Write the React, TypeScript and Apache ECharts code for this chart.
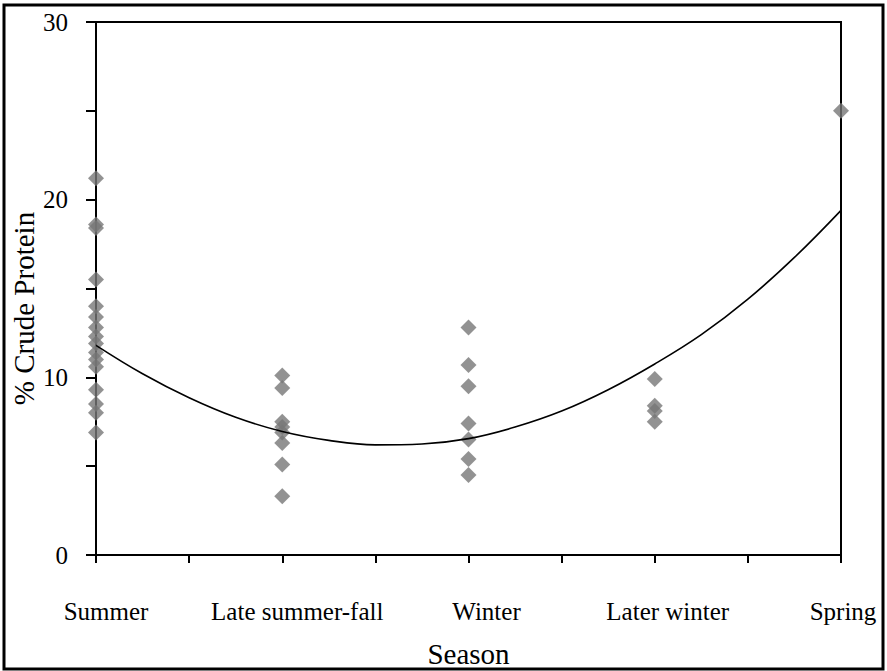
import React, { useEffect, useRef } from "react";
import * as echarts from "echarts";

const seasons = ["Summer", "Late summer-fall", "Winter", "Later winter", "Spring"];

const summer = [21.2, 18.6, 18.4, 15.5, 14.0, 13.4, 12.8, 12.3, 11.9, 11.4, 11.0, 10.6, 9.3, 8.5, 8.0, 6.9];
const lateSummerFall = [10.1, 9.4, 7.5, 7.2, 6.9, 6.3, 5.1, 3.3];
const winter = [12.8, 10.7, 9.5, 7.4, 6.5, 5.4, 4.5];
const laterWinter = [9.9, 8.4, 8.1, 7.5];
const spring = [25.0];

const trendX = [0, 0.25, 0.5, 0.75, 1, 1.25, 1.5, 1.75, 2, 2.25, 2.5, 2.75, 3, 3.25, 3.5, 3.75, 4];
const trendY = [11.8, 10.2, 8.85, 7.75, 6.95, 6.45, 6.2, 6.25, 6.55, 7.2, 8.1, 9.3, 10.75, 12.4, 14.4, 16.75, 19.4];

const yTicks = [0, 10, 20, 30];

const labelShift = [10, 15, 18, 13, 2];

const FONT = "'Liberation Serif', 'Times New Roman', serif";

export default function App() {
  const ref = useRef<HTMLDivElement>(null);

  useEffect(() => {
    if (!ref.current) return;
    const chart = echarts.init(ref.current, null, { renderer: "svg" });

    const groups = [summer, lateSummerFall, winter, laterWinter, spring];
    const points: number[][] = [];
    groups.forEach((g, i) => g.forEach((v) => points.push([i, v])));
    const trend = trendX.map((x, i) => [x, trendY[i]]);

    const rich: any = {};
    seasons.forEach((_, i) => {
      rich["s" + i] = {
        fontFamily: FONT,
        fontSize: 25,
        color: "#000",
        padding: [0, 0, 0, labelShift[i] * 2],
      };
    });

    chart.setOption({
      animation: false,
      backgroundColor: "#fff",
      grid: {
        left: 96,
        right: 46,
        top: 22,
        bottom: 116,
        containLabel: false,
        outerBoundsMode: "none",
        show: true,
        borderColor: "#000",
        borderWidth: 2,
        backgroundColor: "transparent",
      },
      graphic: [
        {
          type: "rect",
          shape: { x: 4, y: 5, width: 879, height: 664 },
          style: { fill: "none", stroke: "#000", lineWidth: 3 },
          silent: true,
        },
      ],
      xAxis: {
        type: "value",
        min: 0,
        max: 4,
        interval: 0.5,
        name: "Season",
        nameLocation: "middle",
        nameGap: 84,
        nameMoveOverlap: false,
        nameTextStyle: { fontFamily: FONT, fontSize: 29, color: "#000" },
        axisLine: { show: true, lineStyle: { color: "#000", width: 2 } },
        axisTick: { show: true, length: 8, lineStyle: { color: "#000", width: 2 } },
        splitLine: { show: false },
        axisLabel: {
          margin: 44,
          showMinLabel: true,
          showMaxLabel: true,
          formatter: (v: number) => {
            if (Math.abs(v - Math.round(v)) > 1e-6) return "";
            const i = Math.round(v);
            return "{s" + i + "|" + seasons[i] + "}";
          },
          rich,
        },
      },
      yAxis: {
        type: "value",
        min: 0,
        max: 30,
        interval: 5,
        name: "% Crude Protein",
        nameLocation: "middle",
        nameRotate: 90,
        nameGap: 58,
        nameMoveOverlap: false,
        nameTextStyle: {
          fontFamily: FONT,
          fontSize: 29,
          color: "#000",
          padding: [0, 40, 0, 0],
        },
        axisLine: { show: true, lineStyle: { color: "#000", width: 2 } },
        axisTick: { show: true, length: 10, lineStyle: { color: "#000", width: 2 } },
        splitLine: { show: false },
        axisLabel: {
          margin: 28,
          fontFamily: FONT,
          fontSize: 25,
          color: "#000",
          formatter: (v: number) => (yTicks.indexOf(v) >= 0 ? String(v) : ""),
        },
      },
      series: [
        {
          type: "scatter",
          data: points,
          symbol: "diamond",
          symbolSize: 16,
          itemStyle: { color: "#777777" },
          z: 2,
        },
        {
          type: "line",
          data: trend,
          smooth: 0.4,
          showSymbol: false,
          symbol: "none",
          lineStyle: { color: "#000", width: 1.6 },
          z: 3,
        },
      ],
    });

    return () => chart.dispose();
  }, []);

  return (
    <div
      ref={ref}
      style={{ position: "fixed", left: 0, top: 0, width: 887, height: 671, background: "#fff" }}
    />
  );
}
